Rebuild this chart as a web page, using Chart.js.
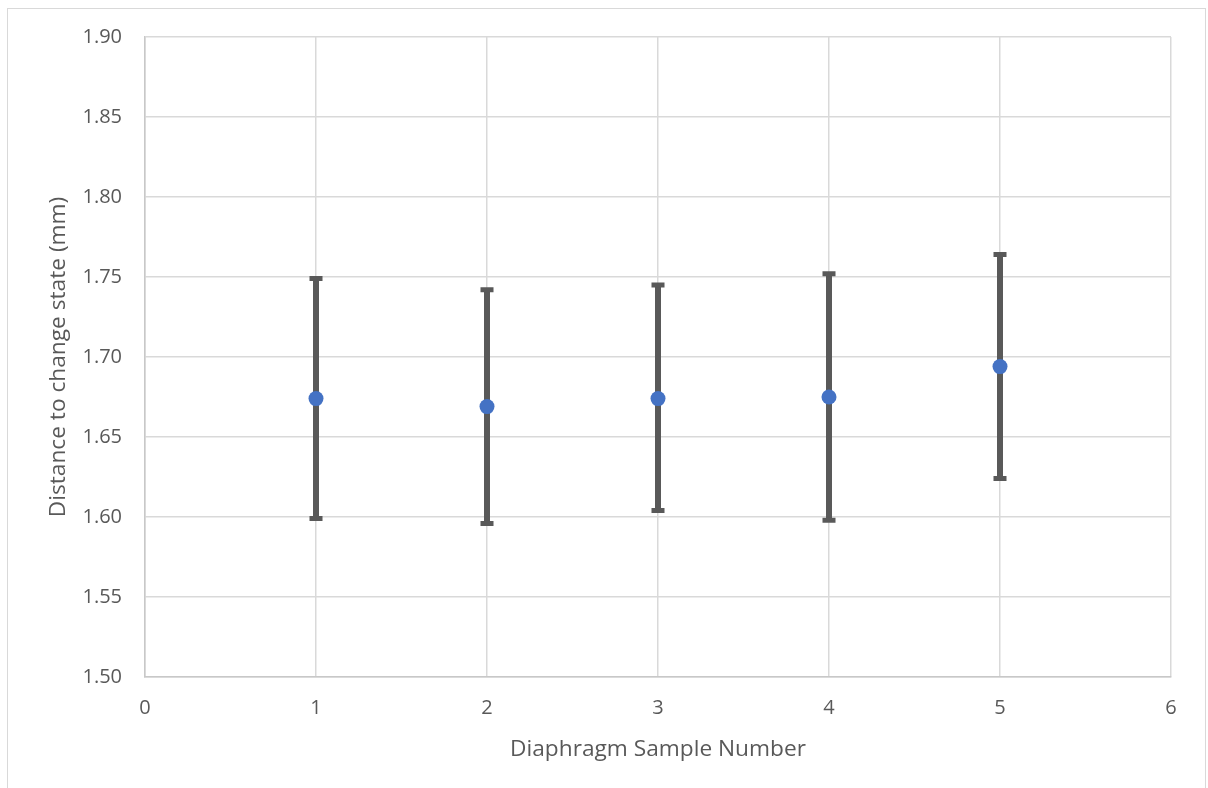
<!DOCTYPE html>
<html>
<head>
<meta charset="utf-8">
<script src="https://cdn.jsdelivr.net/npm/chart.js@4"></script>
<style>
  html, body { margin: 0; padding: 0; background: #ffffff; }
  #wrap { width: 1208px; height: 788px; position: relative; }
</style>
</head>
<body>
<div id="wrap"><canvas id="c" width="1208" height="788"></canvas></div>
<script>
// Data
const sampleNumbers = [1, 2, 3, 4, 5];
const meanDistance = [1.674, 1.669, 1.674, 1.675, 1.694];
const errorPlus = [0.075, 0.073, 0.071, 0.077, 0.070];
const errorMinus = [0.075, 0.073, 0.070, 0.077, 0.070];
const xTitle = 'Diaphragm Sample Number';
const yTitle = 'Distance to change state (mm)';

const FONT = "'Open Sans', 'Liberation Sans', sans-serif";
const TEXT = '#595959';
const GRID = '#d9d9d9';

const points = sampleNumbers.map((x, i) => ({ x: x, y: meanDistance[i] }));

const borderPlugin = {
  id: 'outerBorder',
  beforeDraw(chart) {
    const ctx = chart.ctx;
    ctx.save();
    ctx.fillStyle = '#ffffff';
    ctx.fillRect(0, 0, chart.width, chart.height);
    ctx.strokeStyle = '#d9d9d9';
    ctx.lineWidth = 1;
    ctx.strokeRect(7.5, 8.5, 1198, 790);
    ctx.restore();
  }
};

const errorBarPlugin = {
  id: 'errorBars',
  beforeDatasetsDraw(chart) {
    const ctx = chart.ctx;
    const xs = chart.scales.x, ys = chart.scales.y;
    ctx.save();
    ctx.strokeStyle = '#595959';
    ctx.lineCap = 'butt';
    sampleNumbers.forEach((x, i) => {
      const px = xs.getPixelForValue(x);
      const top = ys.getPixelForValue(meanDistance[i] + errorPlus[i]);
      const bot = ys.getPixelForValue(meanDistance[i] - errorMinus[i]);
      ctx.lineWidth = 6;
      ctx.beginPath();
      ctx.moveTo(px, top);
      ctx.lineTo(px, bot);
      ctx.stroke();
      ctx.lineWidth = 5;
      ctx.beginPath();
      ctx.moveTo(px - 6.5, top);
      ctx.lineTo(px + 6.5, top);
      ctx.moveTo(px - 6.5, bot);
      ctx.lineTo(px + 6.5, bot);
      ctx.stroke();
    });
    ctx.restore();
  }
};

new Chart(document.getElementById('c'), {
  type: 'scatter',
  data: {
    datasets: [{
      data: points,
      backgroundColor: '#4472C4',
      borderColor: '#4472C4',
      pointRadius: 7.5,
      pointHoverRadius: 7.5,
      borderWidth: 0
    }]
  },
  options: {
    responsive: false,
    devicePixelRatio: 1,
    animation: false,
    layout: { padding: { left: 0, top: 37, right: 37, bottom: 0 } },
    plugins: { legend: { display: false }, tooltip: { enabled: false } },
    scales: {
      x: {
        type: 'linear',
        min: 0, max: 6,
        ticks: { stepSize: 1, color: TEXT, font: { family: FONT, size: 20 }, padding: 19 },
        grid: { color: GRID, lineWidth: 1.5, drawTicks: false },
        border: { color: '#c8c8c8', width: 1.5 },
        title: { display: true, text: xTitle, color: TEXT, font: { family: FONT, size: 22.7 }, padding: { top: 0, bottom: 25 } },
        afterFit(scale) { scale.height = 111; }
      },
      y: {
        type: 'linear',
        min: 1.5, max: 1.9,
        ticks: { stepSize: 0.05, color: TEXT, font: { family: FONT, size: 20 }, padding: 23,
                 callback: v => Number(v).toFixed(2) },
        grid: { color: GRID, lineWidth: 1.5, drawTicks: false },
        border: { color: '#c8c8c8', width: 1.5 },
        title: { display: true, text: yTitle, color: TEXT, font: { family: FONT, size: 22.7 }, padding: { top: 45, bottom: 0 } },
        afterFit(scale) { scale.width = 145; }
      }
    }
  },
  plugins: [borderPlugin, errorBarPlugin]
});
</script>
</body>
</html>
